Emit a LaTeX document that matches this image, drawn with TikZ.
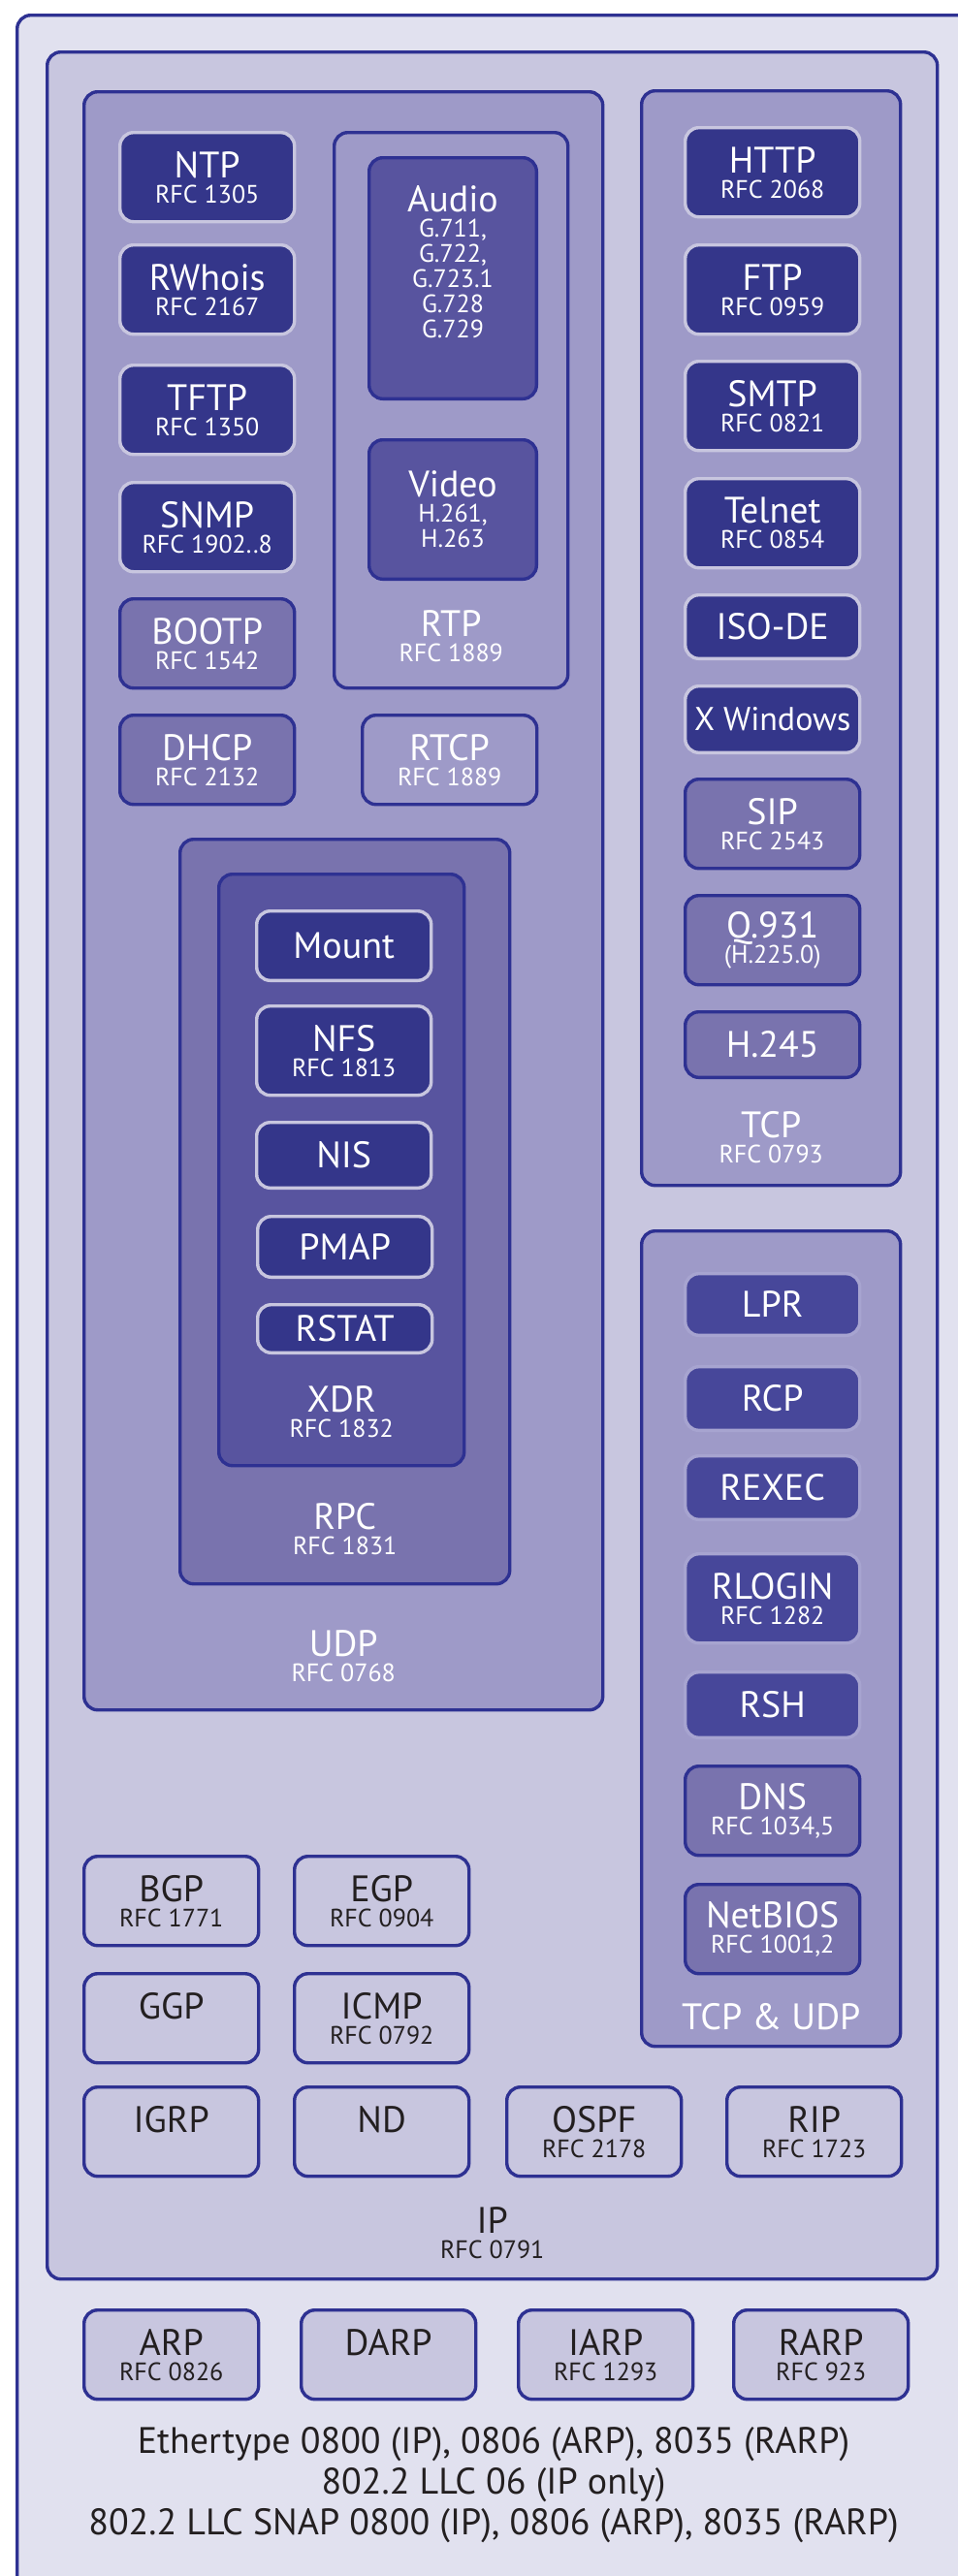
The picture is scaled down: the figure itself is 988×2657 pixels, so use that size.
\documentclass[tikz,border=0pt]{standalone}
\usepackage{fontspec}
\setmainfont{PT Sans}
\usetikzlibrary{positioning}
\definecolor{rim}{HTML}{2E3192}
\definecolor{pale}{HTML}{C8C6DF}
\definecolor{haze}{HTML}{E1E1EF}
\definecolor{lilac}{HTML}{9E9AC8}
\definecolor{mauve}{HTML}{7973AE}
\definecolor{deepmauve}{HTML}{58549F}
\definecolor{indigobox}{HTML}{34368A}
\definecolor{slate}{HTML}{47479A}
\definecolor{slaterim}{HTML}{A7A4D0}
\definecolor{ink}{HTML}{231F20}
\newcommand\rfc{\fontsize{13}{13}\selectfont}

\begin{document}
\begin{tikzpicture}[
            x=0.5pt,y=-0.5pt,
            every node/.style={
              font=\fontsize{19}{13}\selectfont,
              align=center,
              inner sep=0pt
            },
            frame/.style={
              draw=rim,
              line width=1.7pt,
              rounded corners=7pt,
              anchor=north west
            },
            proto/.style={
              frame,
              minimum width=90pt,
              minimum height=46pt
            },
            dark/.style={proto, fill=indigobox, draw=pale, text=white},
            mid/.style={proto, fill=mauve, text=white},
            soft/.style={proto, fill=slate, draw=slaterim, text=white},
            light/.style={proto, fill=pale, text=ink},
            layer/.style={text=white}
            ]
            \useasboundingbox (0,0) rectangle (988,2657);
            \fill[white] (0,0) rectangle (988,2657);
            \clip (0,0) rectangle (988,2657);

            \node[frame, fill=haze, minimum width=505pt, minimum height=1350pt] 
              (link) at (16,14) {};
            \node[frame, fill=pale, minimum width=459pt, minimum height=1148.5pt] 
              (ip) at (47,52) {};
            \node[frame, fill=lilac, minimum width=267.5pt, minimum height=834.5pt] 
              (udp) at (85,93) {};
            \node[frame, fill=lilac, minimum width=133.5pt, minimum height=564.5pt] 
              (tcp) at (660,92) {};
            \node[frame, fill=lilac, minimum width=133.5pt, minimum height=420.5pt] 
              (both) at (660,1268) {};

            % UDP
            \node[dark] (ntp) at (122,135) {NTP\\\rfc RFC 1305};
            \node[dark] (rwhois) at (122,251) {RWhois\\\rfc RFC 2167};
            \node[dark] (tftp) at (122,375) {TFTP\\\rfc RFC 1350};
            \node[dark] (snmp) at (122,496) {SNMP\\\rfc RFC 1902..8};
            \node[mid] (bootp) at (122,616) {BOOTP\\\rfc RFC 1542};
            \node[mid] (dhcp) at (122,736) {DHCP\\\rfc RFC 2132};

            \node[frame, fill=lilac, minimum width=120.5pt, minimum height=286.5pt] 
              (rtp) at (343,135) {};
            \node[proto, fill=deepmauve, text=white, minimum width=86.3pt, minimum height=124.3pt] 
              (audio) at (379,161) 
              {Audio\\\rfc G.711,\\\rfc G.722,\\\rfc G.723.1\\\rfc G.728\\\rfc G.729\\[4pt]};
            \node[proto, fill=deepmauve, text=white, minimum width=86.3pt, minimum height=71.8pt] 
              (video) at (379,452) {Video\\\rfc H.261,\\\rfc H.263};
            \node[layer, above=14pt of rtp.south] (rtp-l) {RTP\\\rfc RFC 1889};
            \node[proto, fill=lilac, text=white] (rtcp) at (372,736) {RTCP\\\rfc RFC 1889};

            \node[frame, fill=mauve, minimum width=170pt, minimum height=384pt] 
              (rpc) at (184,864) {};
            \node[frame, fill=deepmauve, minimum width=126.5pt, minimum height=305pt] 
              (xdr) at (224,900) {};
            \node[dark, minimum height=35.8pt] (mount) at (263,938) {Mount};
            \node[dark] (nfs) at (263,1036) {NFS\\\rfc RFC 1813};
            \node[dark, minimum height=33.8pt] (nis) at (263,1156) {NIS};
            \node[dark, minimum height=31.3pt] (pmap) at (264,1253) {PMAP};
            \node[dark, minimum height=24.8pt] (rstat) at (264,1344) {RSTAT};
            \node[layer, above=15pt of xdr.south] (xdr-l) {XDR\\\rfc RFC 1832};
            \node[layer, above=15.5pt of rpc.south] (rpc-l) {RPC\\\rfc RFC 1831};
            \node[layer, above=15pt of udp.south] (udp-l) {UDP\\\rfc RFC 0768};

            % TCP
            \node[dark] (http) at (705,130) {HTTP\\\rfc RFC 2068};
            \node[dark] (ftp) at (705,251) {FTP\\\rfc RFC 0959};
            \node[dark] (smtp) at (705,371) {SMTP\\\rfc RFC 0821};
            \node[dark] (telnet) at (705,492) {Telnet\\\rfc RFC 0854};
            \node[dark, minimum height=32.8pt] (isode) at (705,612) {ISO-DE};
            \node[dark, minimum height=34.3pt, font=\fontsize{17}{13}\selectfont] 
              (xwin) at (705,706) {X Windows};
            \node[mid] (sip) at (705,802) {SIP\\\rfc RFC 2543};
            \node[mid] (q931) at (705,922) {Q.931\\\rfc (H.225.0)};
            \node[mid, minimum height=33.8pt] (h245) at (705,1042) {H.245};
            \node[layer, above=12pt of tcp.south] (tcp-l) {TCP\\\rfc RFC 0793};

            % TCP & UDP
            \node[soft, minimum height=31.8pt] (lpr) at (705,1312) {LPR};
            \node[soft, minimum height=32.8pt] (rcp) at (705,1408) {RCP};
            \node[soft, minimum height=32.8pt] (rexec) at (705,1500) {REXEC};
            \node[soft] (rlogin) at (705,1601) {RLOGIN\\\rfc RFC 1282};
            \node[soft, minimum height=33.8pt] (rsh) at (705,1723) {RSH};
            \node[mid] (dns) at (705,1820) {DNS\\\rfc RFC 1034,5};
            \node[mid] (netbios) at (705,1942) {NetBIOS\\\rfc RFC 1001,2};
            \node[layer, above=9pt of both.south] (both-l) {TCP \& UDP};

            % IP
            \node[light] (bgp) at (85,1913) {BGP\\\rfc RFC 1771};
            \node[light] (egp) at (302,1913) {EGP\\\rfc RFC 0904};
            \node[light] (ggp) at (85,2034) {GGP\\\rfc\phantom{RFC}};
            \node[light] (icmp) at (302,2034) {ICMP\\\rfc RFC 0792};
            \node[light] (igrp) at (85,2151) {IGRP\\\rfc\phantom{RFC}};
            \node[light] (nd) at (302,2151) {ND\\\rfc\phantom{RFC}};
            \node[light] (ospf) at (521,2151) {OSPF\\\rfc RFC 2178};
            \node[light] (rip) at (748,2151) {RIP\\\rfc RFC 1723};
            \node[text=ink, above=11pt of ip.south] (ip-l) {IP\\\rfc RFC 0791};

            % link layer
            \node[light] (arp) at (85,2381) {ARP\\\rfc RFC 0826};
            \node[light] (darp) at (309,2381) {DARP\\\rfc\phantom{RFC}};
            \node[light] (iarp) at (533,2381) {IARP\\\rfc RFC 1293};
            \node[light] (rarp) at (755,2381) {RARP\\\rfc RFC 923};
            \node[text=ink, anchor=north, font=\fontsize{19}{21}\selectfont] (frames) at (509,2503) 
              {Ethertype 0800 (IP), 0806 (ARP), 8035 (RARP)\\
               802.2 LLC 06 (IP only)\\
               802.2 LLC SNAP 0800 (IP), 0806 (ARP), 8035 (RARP)};
            \end{tikzpicture}
\end{document}
